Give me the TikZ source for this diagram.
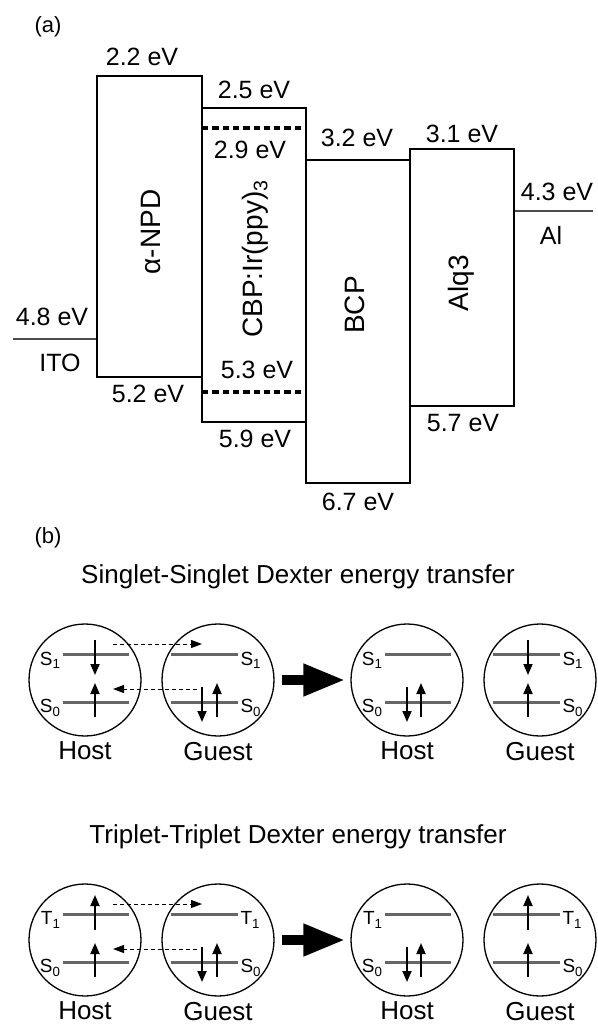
\documentclass[tikz,border=0pt]{standalone}
\usepackage{fontspec}
\setmainfont{Liberation Sans}
\usetikzlibrary{arrows.meta,positioning}
\tikzset{
  band/.style={line width=1.3pt},
  electrode/.style={line width=1.8pt, black!70},
  dopant/.style={line width=3.6pt, dash pattern=on 6.3pt off 4pt},
  energy/.style={font=\fontsize{25}{30}\selectfont, inner sep=0pt},
  layer/.style={font=\fontsize{28}{32}\selectfont, rotate=90, inner sep=0pt},
  panel/.style={font=\fontsize{22}{26}\selectfont, inner sep=0pt},
  orbit/.style={circle, draw, line width=1.3pt, minimum size=112pt, inner sep=0pt},
  level/.style={line width=3pt, black!60},
  level tag/.style={font=\fontsize{19}{22}\selectfont, text=black, inner sep=1pt, yshift=-6pt},
  spin/.style={line width=1.8pt, -{Triangle[length=11pt, width=9pt]}},
  hop/.style={line width=1pt, dash pattern=on 4pt off 3pt, -{Triangle[length=11pt, width=8pt]}},
  transfer/.style={line width=10pt, -{Triangle[length=42pt, width=30pt]}},
  caption/.style={font=\fontsize{26}{30}\selectfont, inner sep=0pt}
}

\begin{document}
\begin{tikzpicture}[x=1pt, y=-1pt]
  \useasboundingbox (0,0) rectangle (597,1024);

  % ---- (a) energy level diagram ----
  \node[panel] (pa) at (48,27) {(a)};

  \coordinate (ITOl) at (13,339);
  \coordinate (ITOr) at (97,339);
  \coordinate (NPDt) at (97,76);
  \coordinate (NPDb) at (202,377);
  \coordinate (CBPt) at (202,108);
  \coordinate (CBPb) at (306,422);
  \coordinate (BCPt) at (306,160);
  \coordinate (BCPb) at (410,483);
  \coordinate (ALQt) at (410,149);
  \coordinate (ALQb) at (514,406);
  \coordinate (ALl) at (514,211);
  \coordinate (ALr) at (593,211);
  \coordinate (IRl1) at (202,128);
  \coordinate (IRr1) at (306,128);
  \coordinate (IRl2) at (202,392);
  \coordinate (IRr2) at (306,392);

  % electrodes
  \draw[electrode] (ITOl) -- (ITOr);
  \draw[electrode] (ALl) -- (ALr);

  % organic layers
  \draw[band] (NPDt) rectangle (NPDb);
  \draw[band] (CBPt) rectangle (CBPb);
  \draw[band] (BCPt) rectangle (BCPb);
  \draw[band] (ALQt) rectangle (ALQb);

  % dopant levels
  \draw[dopant] (IRl1) -- (IRr1);
  \draw[dopant] (IRl2) -- (IRr2);

  % layer names
  \node[layer] (npd) at (151,232) {α-NPD};
  \node[layer] (cbp) at (255,259) {CBP:Ir(ppy)\textsubscript{3}};
  \node[layer] (bcp) at (355,305) {BCP};
  \node[layer] (alq) at (461,283) {Alq3};
  \node[energy] (ito) at (60,363) {ITO};
  \node[energy] (al) at (551,235) {Al};

  % level values
  \node[energy] (e48) at (52,317) {4.8 eV};
  \node[energy] (e22) at (142,57) {2.2 eV};
  \node[energy] (e52) at (148,394) {5.2 eV};
  \node[energy] (e25) at (254,90) {2.5 eV};
  \node[energy] (e29) at (250,150) {2.9 eV};
  \node[energy] (e53) at (257,370) {5.3 eV};
  \node[energy] (e59) at (255,439) {5.9 eV};
  \node[energy] (e32) at (357,138) {3.2 eV};
  \node[energy] (e67) at (358,502) {6.7 eV};
  \node[energy] (e31) at (462,134) {3.1 eV};
  \node[energy] (e57) at (463,423) {5.7 eV};
  \node[energy] (e43) at (557,192) {4.3 eV};

  % ---- (b) Dexter energy transfer ----
  \node[panel] (pb) at (48,538) {(b)};

  \foreach \row/\kind/\lev/\cy/\ua/\ub in {sing/Singlet/S/680/-40/-5, trip/Triplet/T/940/-10/-45} {
    \node[caption] (title\row) at (298,\cy-103) {\kind-\kind{} Dexter energy transfer};

    % molecules before and after
    \node[orbit] (host\row) at (85,\cy) {};
    \node[orbit] (guest\row) at (218,\cy) {};
    \node[orbit] (hostB\row) at (407,\cy) {};
    \node[orbit] (guestB\row) at (540,\cy) {};
    \foreach \m/\txt in {host/Host, guest/Guest, hostB/Host, guestB/Guest}
      \node[caption, below=5pt of \m\row] (\m Tag\row) {\txt};

    % energy levels
    \foreach \cx/\xa/\xb/\tp/\ta in {85/-22/44/0/east, 218/-47/20/1/west, 407/-22/44/0/east, 540/-47/20/1/west} {
      \draw[level] (\cx+\xa,\cy-26) -- (\cx+\xb,\cy-26)
        node[level tag, pos=\tp, anchor=\ta] (up\row\cx) {\lev\textsubscript{1}};
      \draw[level] (\cx+\xa,\cy+22) -- (\cx+\xb,\cy+22)
        node[level tag, pos=\tp, anchor=\ta] (gs\row\cx) {S\textsubscript{0}};
    }

    % spins
    \draw[spin] (95,\cy+\ua) -- (95,\cy+\ub);
    \draw[spin] (95,\cy+37) -- (95,\cy+3);
    \draw[spin] (202,\cy+7) -- (202,\cy+42);
    \draw[spin] (217,\cy+37) -- (217,\cy+3);
    \draw[spin] (407,\cy+7) -- (407,\cy+42);
    \draw[spin] (421,\cy+37) -- (421,\cy+3);
    \draw[spin] (528,\cy+\ua) -- (528,\cy+\ub);
    \draw[spin] (528,\cy+37) -- (528,\cy+3);

    % electron exchange
    \draw[hop] ([shift={(28,-36)}]host\row.center) -- ([shift={(-16,-36)}]guest\row.center);
    \draw[hop] ([shift={(-21,9)}]guest\row.center) -- ([shift={(28,9)}]host\row.center);
    \draw[transfer] ([xshift=7pt]guest\row.east) -- ([xshift=-5pt]hostB\row.west);
  }

\end{tikzpicture}
\end{document}
